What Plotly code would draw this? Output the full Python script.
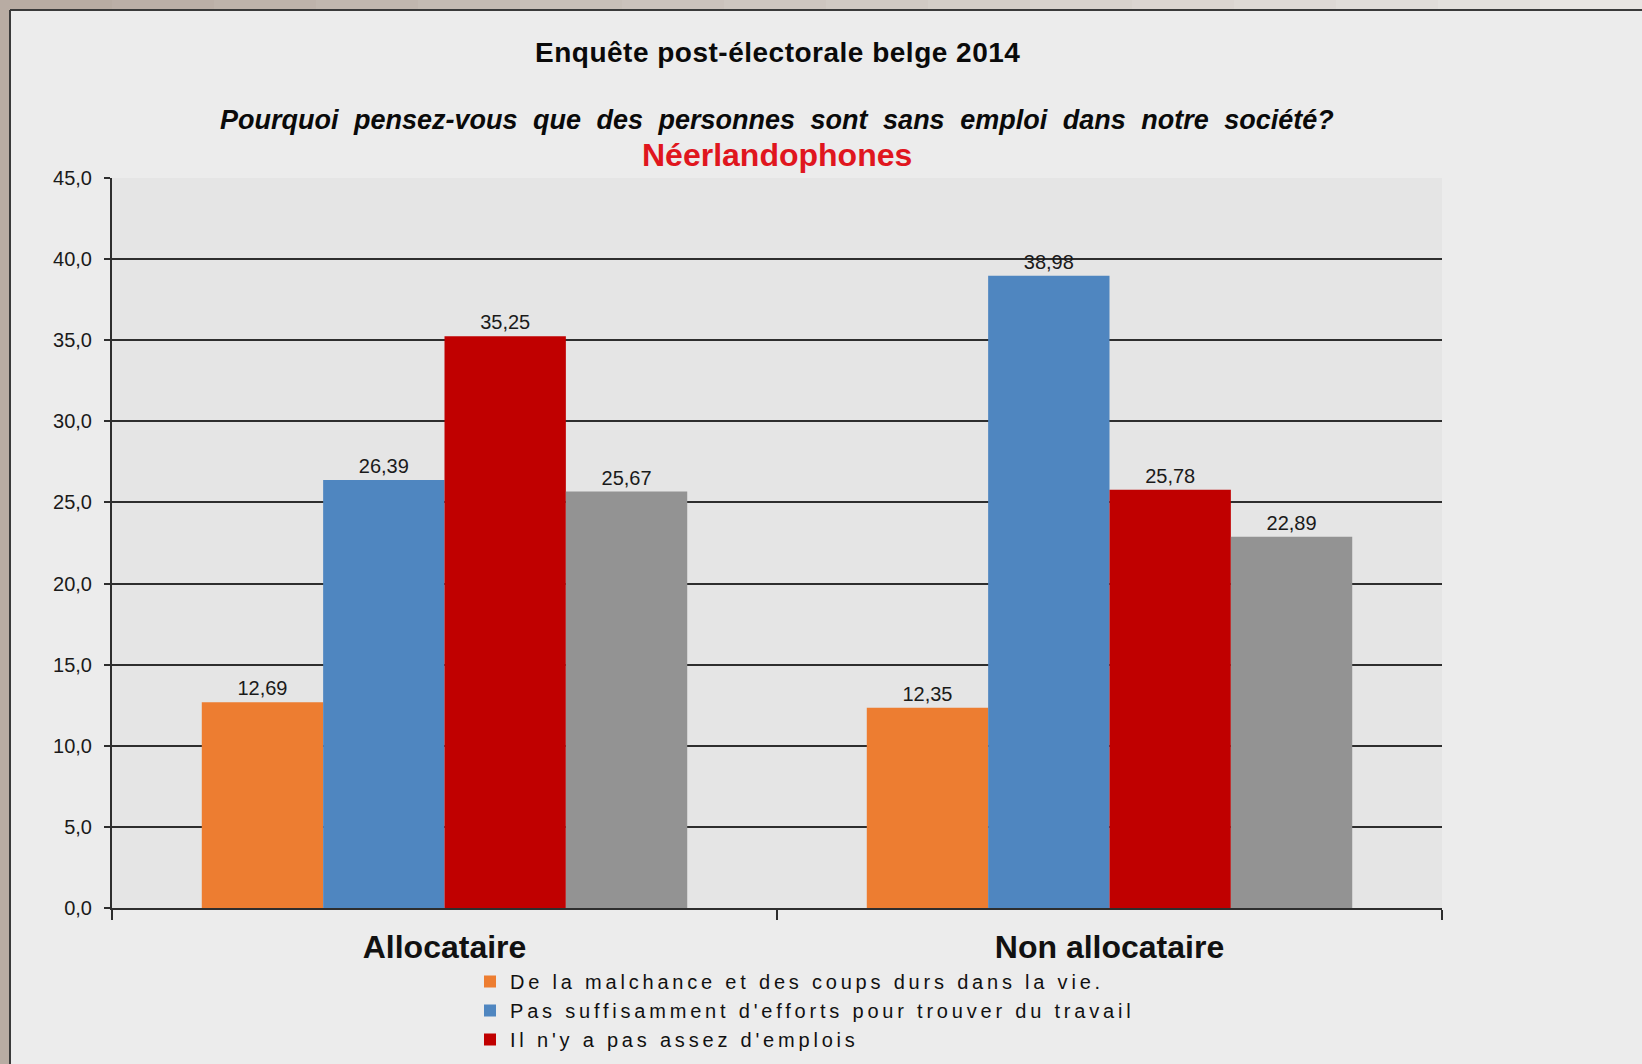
import plotly.graph_objects as go

# page and plot area in pixels
W, H = 1642, 1064
ML, MR, MT, MB = 112, 200, 178, 156

# data
categories = ['Allocataire', 'Non allocataire']
malchance = [12.69, 12.35]
efforts = [26.39, 38.98]
emplois = [35.25, 25.78]
autre = [25.67, 22.89]

series_names = [
    "De la malchance et des coups durs dans la vie.",
    "Pas suffisamment d'efforts pour trouver du travail",
    "Il n'y a pas assez d'emplois",
    "Autre",
]
series_values = [malchance, efforts, emplois, autre]
series_colors = ['#ED7D31', '#4F86C0', '#C00000', '#939393']
y_tick_values = [0, 5, 10, 15, 20, 25, 30, 35, 40, 45]


def px_x(px):
    return (px - ML) / (W - ML - MR)


def px_y(py):
    return (H - MB - py) / (H - MT - MB)


fig = go.Figure()

for i, (name, vals, col) in enumerate(zip(series_names, series_values, series_colors)):
    fig.add_trace(go.Bar(
        x=categories,
        y=vals,
        name='<span style="letter-spacing:3.8px">' + name + '</span>',
        marker=dict(color=col, line=dict(width=0)),
        texttemplate='%{y:.2f}',
        textposition='outside',
        textfont=dict(size=20, color='#1a1a1a'),
        cliponaxis=False,
        showlegend=(i < 3),
    ))

# outer brownish border strips and frame line
shapes = []
shapes.append(dict(type='rect', xref='paper', yref='paper', layer='above',
                   x0=px_x(-5), x1=px_x(10), y0=px_y(H + 5), y1=px_y(-5),
                   fillcolor='#b8aca3', line=dict(width=0)))
n_seg = 16
brown = (184, 172, 163)
light = (232, 229, 226)
for k in range(n_seg):
    t = k / (n_seg - 1)
    c = tuple(int(brown[j] + (light[j] - brown[j]) * t) for j in range(3))
    shapes.append(dict(type='rect', xref='paper', yref='paper', layer='above',
                       x0=px_x(10 + k * (W - 10) / n_seg), x1=px_x(10 + (k + 1) * (W - 10) / n_seg + 1),
                       y0=px_y(10), y1=px_y(-5),
                       fillcolor='rgb(%d,%d,%d)' % c, line=dict(width=0)))
shapes.append(dict(type='line', xref='paper', yref='paper', layer='above',
                   x0=px_x(10), x1=px_x(10), y0=px_y(10), y1=px_y(H + 5),
                   line=dict(color='#3a3a3a', width=2)))
shapes.append(dict(type='line', xref='paper', yref='paper', layer='above',
                   x0=px_x(10), x1=px_x(W + 5), y0=px_y(10), y1=px_y(10),
                   line=dict(color='#3a3a3a', width=2)))

fig.update_layout(
    width=W, height=H,
    margin=dict(l=ML, r=MR, t=MT, b=MB, autoexpand=False),
    paper_bgcolor='#ececec',
    plot_bgcolor='#e5e5e5',
    separators=', ',
    font=dict(family='Liberation Sans, Arial, sans-serif', color='#111111'),
    barmode='group',
    bargap=0.27,
    bargroupgap=0,
    shapes=shapes,
    showlegend=True,
    legend=dict(
        x=px_x(470), xanchor='left',
        y=px_y(962), yanchor='top',
        bgcolor='rgba(0,0,0,0)',
        font=dict(size=20, color='#111111'),
        tracegroupgap=0,
    ),
    xaxis=dict(
        type='category',
        tickson='boundaries',
        ticks='outside', ticklen=10, tickwidth=2, tickcolor='#2e2e2e',
        showline=True, linecolor='#2e2e2e', linewidth=2,
        showgrid=False,
        ticklabelstandoff=10,
        tickfont=dict(size=32, weight='bold', color='#111111'),
    ),
    yaxis=dict(
        range=[0, 45],
        tickvals=y_tick_values,
        tickformat='.1f',
        ticks='outside', ticklen=6, tickwidth=2, tickcolor='#2e2e2e',
        showline=True, linecolor='#2e2e2e', linewidth=2,
        showgrid=True, gridcolor='#2e2e2e', gridwidth=2,
        zeroline=False,
        ticklabelstandoff=8,
        tickfont=dict(size=20, color='#1a1a1a'),
    ),
)

fig.add_annotation(
    xref='paper', yref='paper', x=0.5, y=px_y(53),
    text='<span style="letter-spacing:0.5px">Enquête post-électorale belge 2014</span>',
    showarrow=False, xanchor='center', yanchor='middle',
    font=dict(size=28, weight='bold', color='#0a0a0a'),
)
fig.add_annotation(
    xref='paper', yref='paper', x=0.5, y=px_y(120),
    text='<span style="word-spacing:8px">Pourquoi pensez-vous que des personnes sont sans emploi dans notre société?</span>',
    showarrow=False, xanchor='center', yanchor='middle',
    font=dict(size=27, weight='bold', style='italic', color='#0a0a0a'),
)
fig.add_annotation(
    xref='paper', yref='paper', x=0.5, y=px_y(155),
    text='Néerlandophones',
    showarrow=False, xanchor='center', yanchor='middle',
    font=dict(size=32, weight='bold', color='#e0161e'),
)

# the page body has a default 8px margin; drop it so the figure fills the window
fig.write_html('out.html', config={'displayModeBar': False},
               post_script="document.body.style.margin='0';")
